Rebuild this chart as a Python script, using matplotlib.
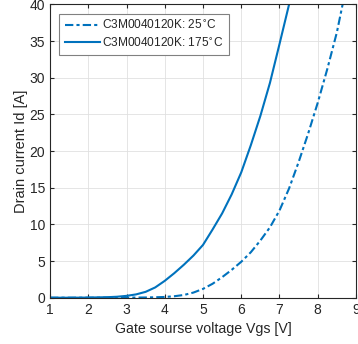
import matplotlib
matplotlib.use("Agg")
import matplotlib.pyplot as plt

plt.rcParams['font.family'] = ['Liberation Sans', 'DejaVu Sans']

vgs_25 = [1.0, 2.0, 3.0, 3.5, 3.75, 4.0, 4.25, 4.5, 4.75, 5.0, 5.25, 5.5, 5.75, 6.0,
          6.25, 6.5, 6.75, 7.0, 7.25, 7.5, 7.75, 8.0, 8.25, 8.5, 8.65, 8.7]
id_25 = [0.0, 0.0, 0.01, 0.03, 0.06, 0.1, 0.2, 0.37, 0.7, 1.2, 1.9, 2.8, 3.8, 4.9,
         6.2, 7.8, 9.6, 11.9, 14.9, 18.5, 22.4, 26.6, 31.2, 36.2, 40.0, 41.3]
vgs_175 = [1.0, 1.5, 2.0, 2.5, 2.75, 3.0, 3.25, 3.5, 3.75, 4.0, 4.25, 4.5, 4.75, 5.0,
           5.25, 5.5, 5.75, 6.0, 6.25, 6.5, 6.75, 7.0, 7.25, 7.3]
id_175 = [0.0, 0.0, 0.02, 0.07, 0.13, 0.25, 0.45, 0.8, 1.4, 2.3, 3.35, 4.5, 5.75, 7.2,
          9.3, 11.5, 14.1, 17.1, 20.8, 24.8, 29.3, 34.6, 40.0, 41.2]

label_25 = 'C3M0040120K: 25$^{\\circ}$C'
label_175 = 'C3M0040120K: 175$^{\\circ}$C'
xlabel = 'Gate sourse voltage Vgs [V]'
ylabel = 'Drain current Id [A]'

color = '#0072BD'
fig = plt.figure(figsize=(3.58, 3.44), dpi=100)
ax = fig.add_axes([0.1397, 0.1346, 0.8547, 0.8524])

ax.plot(vgs_25, id_25, color=color, lw=1.5, linestyle=(0, (4, 1.5, 1.5, 1.5)), label=label_25)
ax.plot(vgs_175, id_175, color=color, lw=1.5, linestyle='-', label=label_175)

ax.set_xlim(1, 9)
ax.set_ylim(0, 40)
ax.set_xticks(range(1, 10))
ax.set_yticks(range(0, 41, 5))
ax.grid(True, color='#e0e0e0', lw=0.6)
ax.set_axisbelow(True)
ax.tick_params(direction='in', top=True, right=True, length=3, width=0.8,
               labelsize=10, labelcolor='#262626', color='#262626')
for s in ax.spines.values():
    s.set_color('#262626')
    s.set_linewidth(0.8)
ax.set_xlabel(xlabel, fontsize=10.2, color='#262626', labelpad=4)
ax.set_ylabel(ylabel, fontsize=10.5, color='#262626', labelpad=1)

leg = ax.legend(loc='upper left', bbox_to_anchor=(0.03, 0.968), fontsize=8.6,
                frameon=True, fancybox=False, framealpha=1, edgecolor='#808080',
                handlelength=3.0, handletextpad=0.15, borderpad=0.45,
                labelspacing=0.35, borderaxespad=0)
leg.get_frame().set_linewidth(0.8)
for t in leg.get_texts():
    t.set_color('#262626')

fig.savefig('out.png', dpi=100)
